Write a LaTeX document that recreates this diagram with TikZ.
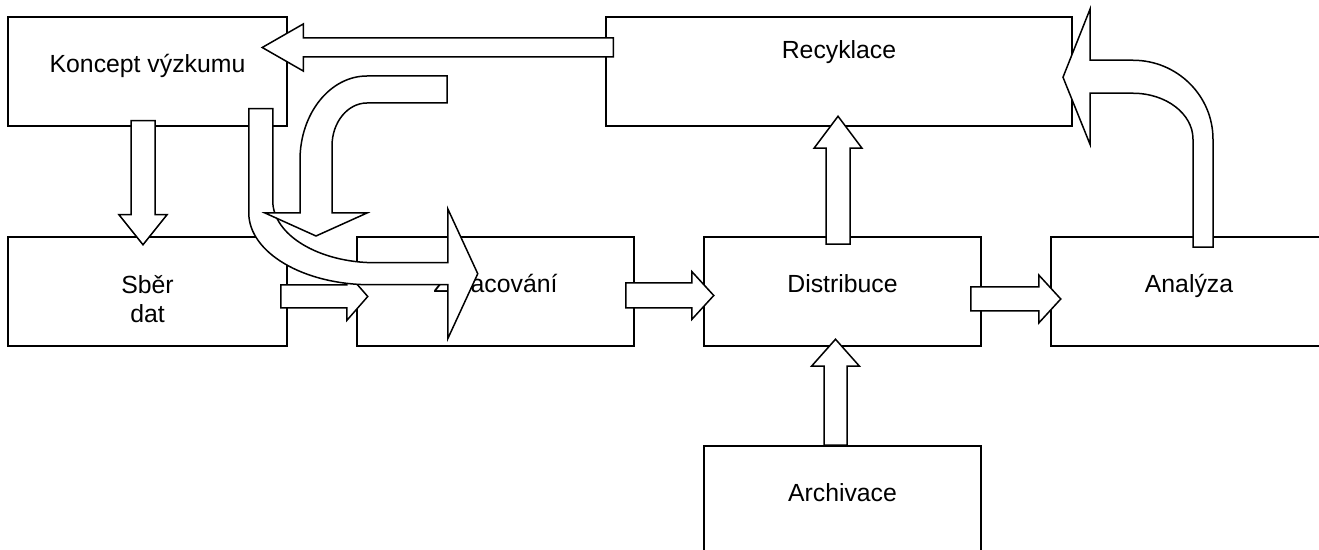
\documentclass[tikz,border=0pt]{standalone}
\usepackage{fontspec}
\setmainfont{Liberation Sans}
\usetikzlibrary{calc}

\tikzset{
    box/.style={draw, line width=0.75pt, minimum width=138.5pt, minimum height=54.5pt,
        font=\fontsize{12.4pt}{14.5pt}\selectfont, text height=9pt, text depth=8pt},
    barrow/.style={draw, fill=white, line width=0.75pt},
    pics/blockarrow/.style n args={4}{code={
        \draw[barrow] (0,-#2) -- (#1-#4,-#2) -- (#1-#4,-#3) -- (#1,0)
            -- (#1-#4,#3) -- (#1-#4,#2) -- (0,#2) -- cycle;
    }}
}

\begin{document}
\begin{tikzpicture}[x=0.5pt, y=-0.5pt]
    \useasboundingbox (0,0) rectangle (1319,550);
    \clip (0,0) rectangle (1319,550);

    % --- Boxes
    \node[box, minimum width=139.5pt] (koncept) at (147.5,71.5) {Koncept výzkumu};
    \node[box, minimum width=233pt, text height=3pt, text depth=15.5pt] (recykl) at (839,71.5) {Recyklace};
    \node[box, minimum width=139.5pt, align=center, text height=33pt, text depth=1.5pt] (sber) at (147.5,291.5) {Sběr\\dat};
    \node[box] (zprac) at (495.5,291.5) {Zpracování};
    \node[box] (distr) at (842.5,291.5) {Distribuce};
    \node[box, minimum width=138pt] (analyza) at (1189,291.5) {Analýza};
    \node[box] (archiv) at (842.5,500.5) {Archivace};

    % --- Straight block arrows
    \pic[rotate=-90] at ($(koncept.south)+(-4.5,-6)$) {blockarrow={124}{12}{24}{30}};
    \pic at ($(sber.east)+(-7,5)$) {blockarrow={87}{11.5}{24}{21}};
    \pic at ($(zprac.east)+(-9,4)$) {blockarrow={88}{12.5}{24}{22}};
    \pic at ($(distr.east)+(-11,7.5)$) {blockarrow={90}{12}{24}{22}};
    \pic[rotate=90] at ($(distr.north)+(-4.5,8)$) {blockarrow={128}{12}{24}{32}};
    \pic[rotate=90] at ($(archiv.north)+(-7,0)$) {blockarrow={106}{11.5}{24}{27}};
    \pic[rotate=180] at ($(recykl.west)+(8,-24)$) {blockarrow={351}{9.5}{23.5}{41}};

    % --- Bent arrow, Analyza up and back into Recyklace
    \coordinate (a2r) at ($(analyza.north)+(14,11)$);
    \draw[barrow, shift={(a2r)}] (-10,0) -- (-10,-108)
        arc[start angle=0, end angle=-90, x radius=60, y radius=46]
        -- (-113,-154) -- (-113,-103) -- (-140,-170) -- (-113,-238) -- (-113,-187) -- (-70,-187)
        arc[start angle=-90, end angle=0, x radius=80, y radius=79]
        -- (10,0) -- cycle;

    % --- Bent arrow, Koncept down and over to Zpracovani
    \coordinate (k2z) at ($(koncept.south east)+(-27,-18)$);
    \draw[barrow, shift={(k2z)}] (-12,0) -- (-12,104)
        arc[start angle=180, end angle=90, x radius=122, y radius=72]
        -- (187,176) -- (187,230) -- (217,165) -- (187,100) -- (187,154) -- (115,154)
        arc[start angle=90, end angle=180, x radius=103, y radius=62]
        -- (12,0) -- cycle;

    % --- Bent arrow with a free tail, turning down
    \coordinate (loopin) at (447,89.5);
    \draw[barrow, shift={(loopin)}] (0,-13.5) -- (-80,-13.5)
        arc[start angle=-90, end angle=-180, x radius=67, y radius=84]
        -- (-147,123.5) -- (-182,123.5) -- (-131,146.5) -- (-80,123.5) -- (-115,123.5) -- (-115,56.5)
        arc[start angle=180, end angle=270, x radius=35, y radius=43]
        -- (0,13.5) -- cycle;
\end{tikzpicture}
\end{document}
